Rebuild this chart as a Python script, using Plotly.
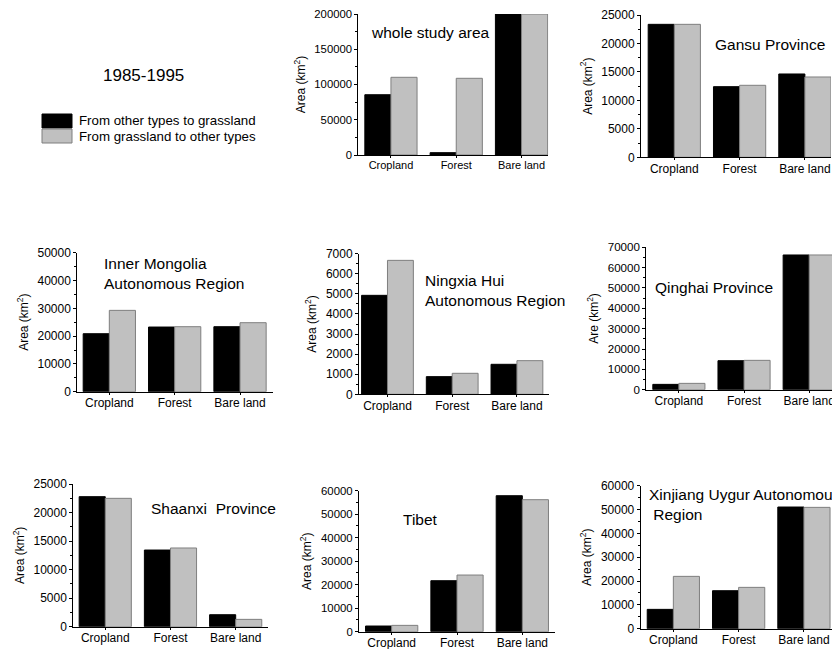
import plotly.graph_objects as go

W, H = 832, 649

categories = ["Cropland", "Forest", "Bare land"]
series_names = ["From other types to grassland", "From grassland to other types"]

# values: [to grassland (black), from grassland (gray)]
whole_black = [85500, 3300, 200000]
whole_gray = [110200, 108800, 200000]
gansu_black = [23360, 12410, 14640]
gansu_gray = [23360, 12650, 14110]
inner_black = [20860, 23260, 23380]
inner_gray = [29260, 23380, 24820]
ningxia_black = [4927, 879, 1493]
ningxia_gray = [6668, 1045, 1675]
qinghai_black = [2623, 14260, 66230]
qinghai_gray = [3115, 14430, 66230]
shaanxi_black = [22780, 13430, 2100]
shaanxi_gray = [22490, 13790, 1285]
tibet_black = [2411, 21700, 57870]
tibet_gray = [2695, 24110, 56170]
xinjiang_black = [8110, 15940, 51050]
xinjiang_gray = [21960, 17340, 50910]

panel_titles = [
    "whole study area", "Gansu Province", "Inner Mongolia<br>Autonomous Region",
    "Ningxia Hui<br>Autonomous Region", "Qinghai Province", "Shaanxi  Province",
    "Tibet", "Xinjiang Uygur Autonomous<br> Region",
]
y_titles = ["Area (km<sup>2</sup>)"] * 4 + ["Are (km<sup>2</sup>)"] + ["Area (km<sup>2</sup>)"] * 3

panels = [
    dict(b=whole_black, g=whole_gray, ymax=200000, dt=50000, box=(358.3, 548.3, 14, 155), xr=[-0.5, 2.41], tp=(369, 33), tf=11.3, cf=11),
    dict(b=gansu_black, g=gansu_gray, ymax=25000, dt=5000, box=(641, 831, 15, 157.3), xr=[-0.51, 2.40], tp=(713, 45), tf=12, cf=12),
    dict(b=inner_black, g=inner_gray, ymax=50000, dt=10000, box=(77.3, 272.7, 252.7, 391.7), xr=[-0.49, 2.50], tp=(102, 274), tf=12, cf=12),
    dict(b=ningxia_black, g=ningxia_gray, ymax=7000, dt=1000, box=(359, 549.3, 253.7, 394.3), xr=[-0.44, 2.50], tp=(423, 290), tf=12, cf=12),
    dict(b=qinghai_black, g=qinghai_gray, ymax=70000, dt=10000, box=(646.3, 832, 247.3, 389.7), xr=[-0.5, 2.35], tp=(653, 287), tf=11.6, cf=12),
    dict(b=shaanxi_black, g=shaanxi_gray, ymax=25000, dt=5000, box=(73.3, 268.3, 484, 626.7), xr=[-0.49, 2.50], tp=(149, 508), tf=12, cf=12),
    dict(b=tibet_black, g=tibet_gray, ymax=60000, dt=10000, box=(359, 555, 490.7, 631.7), xr=[-0.5, 2.5], tp=(401, 519), tf=11.4, cf=12),
    dict(b=xinjiang_black, g=xinjiang_gray, ymax=60000, dt=10000, box=(640.7, 832, 485.7, 628.7), xr=[-0.5, 2.43], tp=(647, 504), tf=12, cf=12),
]

FONT = "Liberation Sans, Arial, sans-serif"
BLACK = "#000000"
GRAY = "#c0c0c0"
EDGE = "#7f7f7f"

def fx(px):
    return px / W

def fy(py):
    return 1 - py / H

fig = go.Figure()
layout = dict(
    width=W, height=H, margin=dict(l=0, r=0, t=0, b=0, pad=0, autoexpand=False),
    paper_bgcolor="white", plot_bgcolor="white",
    barmode="group", bargap=0.2, bargroupgap=0,
    showlegend=False, font=dict(family=FONT, color="black"),
)
annotations = []
for i, p in enumerate(panels):
    n = i + 1
    xa = "x" if n == 1 else f"x{n}"
    ya = "y" if n == 1 else f"y{n}"
    fig.add_trace(go.Bar(x=categories, y=p["b"], name=series_names[0], xaxis=xa, yaxis=ya,
                         marker=dict(color=BLACK, line=dict(color=BLACK, width=1))))
    fig.add_trace(go.Bar(x=categories, y=p["g"], name=series_names[1], xaxis=xa, yaxis=ya,
                         marker=dict(color=GRAY, line=dict(color=EDGE, width=1))))
    x0, x1, yt, yb = p["box"]
    layout[f"xaxis{n}"] = dict(
        domain=[fx(x0), min(fx(x1), 1)], anchor=ya, range=p["xr"], type="category",
        showline=True, linecolor="black", linewidth=1, ticks="outside", ticklen=2,
        tickcolor="black", showgrid=False, zeroline=False, ticklabelstandoff=-2,
        automargin=False, fixedrange=True,
        tickfont=dict(family=FONT, size=p["cf"], color="black"),
    )
    layout[f"yaxis{n}"] = dict(
        domain=[fy(yb), fy(yt)], anchor=xa, range=[0, p["ymax"]], dtick=p["dt"],
        tickformat="d", automargin=False, fixedrange=True,
        showline=True, linecolor="black", linewidth=1, ticks="outside", ticklen=3,
        tickcolor="black", showgrid=False, zeroline=False,
        tickfont=dict(family=FONT, size=p["tf"], color="black"),
        minor=dict(ticks="outside", ticklen=2, tickcolor="black", dtick=p["dt"] / 2),
        title=dict(text=y_titles[i], font=dict(family=FONT, size=12, color="black"), standoff=6),
    )
    annotations.append(dict(
        text=panel_titles[i], x=fx(p["tp"][0]), y=fy(p["tp"][1]), xref="paper", yref="paper",
        xanchor="left", yanchor="middle", align="left", showarrow=False,
        font=dict(family=FONT, size=15.5, color="black"),
    ))

annotations.append(dict(text="1985-1995", x=fx(143), y=fy(75), xref="paper", yref="paper",
                        xanchor="center", yanchor="middle", showarrow=False,
                        font=dict(family=FONT, size=17, color="black")))
shapes = []
legend_rows = [(series_names[0], BLACK, BLACK, 121), (series_names[1], GRAY, EDGE, 136)]
for name, fill, edge, cy in legend_rows:
    shapes.append(dict(type="rect", xref="paper", yref="paper", x0=fx(42), x1=fx(72),
                       y0=fy(cy - 7), y1=fy(cy + 7), fillcolor=fill, line=dict(color=edge, width=1)))
    annotations.append(dict(text=name, x=fx(77), y=fy(cy), xref="paper", yref="paper",
                            xanchor="left", yanchor="middle", showarrow=False,
                            font=dict(family=FONT, size=13.3, color="black")))

layout["annotations"] = annotations
layout["shapes"] = shapes
fig.update_layout(**layout)
fig.write_html("out.html", config={"displayModeBar": False},
               post_script="document.body.style.margin='0';document.body.style.overflow='hidden';")
